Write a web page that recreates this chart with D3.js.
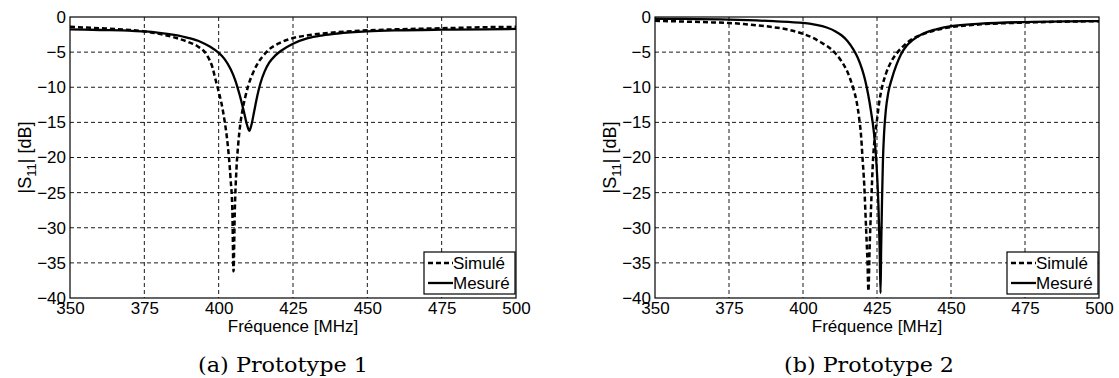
<!DOCTYPE html>
<html><head><meta charset="utf-8">
<script src="https://cdn.jsdelivr.net/npm/d3@7"></script>
<style>
html,body{margin:0;padding:0;background:#fff;}
svg{display:block;}
</style></head>
<body>
<svg id="chart" width="1119" height="378"></svg>
<script>
// ---------- data ----------
const freqTicks = [350, 375, 400, 425, 450, 475, 500];
const dbTicks = [0, -5, -10, -15, -20, -25, -30, -35, -40];
const seriesNames = ["Simulé", "Mesuré"];
const captions = ["(a) Prototype 1", "(b) Prototype 2"];

// Prototype 1 - simulated
const p1SimFreq = [350,360,370,375,380,385,390,393,396,398,399,400,401,402,403,404,404.6,405,405.4,406,406.6,407.2,408,409,410,411.5,413,415,417,420,425,430,435,440,450,460,475,490,500];
const p1SimDb   = [-1.4,-1.6,-1.85,-2.05,-2.4,-2.9,-3.6,-4.2,-5.4,-7.3,-9.0,-10.6,-12.4,-14.8,-18,-23,-27.5,-36.2,-28,-21.5,-18,-15.5,-13.3,-11.3,-9.7,-8.0,-6.7,-5.5,-4.6,-3.8,-3.0,-2.6,-2.35,-2.15,-1.9,-1.75,-1.6,-1.45,-1.4];
// Prototype 1 - measured
const p1MeasFreq = [350,360,370,375,380,385,390,394,397,400,402,404,405.5,407,408.5,409.5,410.3,411,412,413,414,415.5,417,419,421,425,430,435,440,450,460,475,490,500];
const p1MeasDb   = [-1.75,-1.85,-1.95,-2.05,-2.25,-2.55,-3.0,-3.55,-4.2,-5.1,-6.0,-7.4,-8.9,-11.0,-13.5,-15.3,-16.2,-15.4,-13.3,-11.2,-9.5,-7.7,-6.5,-5.5,-4.8,-3.8,-3.0,-2.6,-2.35,-2.05,-1.9,-1.8,-1.75,-1.7];

// Prototype 2 - simulated
const p2SimFreq = [350,360,370,375,380,385,390,395,400,403,406,409,411,413,415,417,418,419,419.6,420.1,420.7,421.3,421.8,422.1,422.5,423,423.7,424.3,424.9,425.7,426.7,428,430,432,434,437,440,445,450,460,475,490,500];
const p2SimDb   = [-0.55,-0.65,-0.78,-0.85,-1.0,-1.2,-1.45,-1.8,-2.4,-2.9,-3.6,-4.4,-5.2,-6.3,-7.8,-10.2,-11.8,-14.5,-16.8,-20,-24,-30,-35,-39,-33,-27,-20,-17,-15,-12.3,-10,-8.1,-6.2,-5.0,-4.1,-3.1,-2.55,-1.85,-1.45,-1.05,-0.8,-0.65,-0.6];
// Prototype 2 - measured
const p2MeasFreq = [350,360,375,390,400,404,408,411,413,415,417,418.5,420,421,422,423,424,424.6,425.1,425.5,425.9,426.2,426.4,426.7,427.0,427.4,428.0,428.8,430,431.5,433,435,437,440,445,450,460,475,490,500];
const p2MeasDb   = [-0.25,-0.28,-0.38,-0.6,-0.85,-1.1,-1.5,-2.05,-2.6,-3.4,-4.6,-5.8,-7.5,-9.0,-11.0,-13.5,-16.6,-19.5,-23,-27,-33,-39.3,-33,-26,-20.5,-16.5,-13.2,-10.8,-8.8,-6.9,-5.4,-4.1,-3.3,-2.5,-1.75,-1.3,-0.95,-0.72,-0.62,-0.58];

const panels = [
  {sim: {f: p1SimFreq, v: p1SimDb}, meas: {f: p1MeasFreq, v: p1MeasDb}, caption: captions[0]},
  {sim: {f: p2SimFreq, v: p2SimDb}, meas: {f: p2MeasFreq, v: p2MeasDb}, caption: captions[1]}
];

// ---------- layout ----------
const frames = [
  {left: 70, right: 516, top: 17, bottom: 298, capX: 283},
  {left: 655, right: 1099, top: 17, bottom: 298, capX: 869}
];

const svg = d3.select("#chart");
const sans = "'Liberation Sans', Arial, Helvetica, sans-serif";
const serif = "'DejaVu Serif', 'Liberation Serif', serif";
const minus = s => String(s).replace("-", "\u2212");
const FS = 17;

panels.forEach((p, i) => {
  const fr = frames[i];
  const x = d3.scaleLinear().domain([350, 500]).range([fr.left, fr.right]);
  const y = d3.scaleLinear().domain([-40, 0]).range([fr.bottom, fr.top]);
  const g = svg.append("g");

  const clipId = "clip" + i;
  svg.append("clipPath").attr("id", clipId).append("rect")
    .attr("x", fr.left).attr("y", fr.top - 2).attr("width", fr.right - fr.left).attr("height", fr.bottom - fr.top + 4);

  // grid
  const grid = g.append("g");
  grid.selectAll("line.gx").data(freqTicks.slice(1, -1)).join("line")
    .attr("x1", d => x(d)).attr("x2", d => x(d)).attr("y1", fr.top).attr("y2", fr.bottom)
    .attr("stroke", "#000").attr("stroke-width", 0.9).attr("stroke-dasharray", "4,3");
  grid.selectAll("line.gy").data(dbTicks.slice(1, -1)).join("line")
    .attr("y1", d => y(d)).attr("y2", d => y(d)).attr("x1", fr.left).attr("x2", fr.right)
    .attr("stroke", "#000").attr("stroke-width", 0.9).attr("stroke-dasharray", "4,3");

  // axes
  const xAxis = d3.axisBottom(x).tickValues(freqTicks).tickSize(0).tickPadding(5).tickFormat(d3.format("d"));
  const yAxis = d3.axisLeft(y).tickValues(dbTicks).tickSize(0).tickPadding(4).tickFormat(d => minus(d));
  const gx = g.append("g").attr("transform", `translate(0,${fr.bottom})`).call(xAxis);
  const gy = g.append("g").attr("transform", `translate(${fr.left},0)`).call(yAxis);
  [gx, gy].forEach(a => {
    a.select(".domain").remove();
    a.selectAll("text").attr("font-family", sans).attr("font-size", FS).attr("fill", "#000");
  });
  gx.selectAll("text").attr("dy", "0.71em").attr("y", 4);

  // curves
  const line = d3.line().x(d => x(d[0])).y(d => y(d[1])).curve(d3.curveMonotoneX);
  const simPts = p.sim.f.map((f, k) => [f, p.sim.v[k]]);
  const measPts = p.meas.f.map((f, k) => [f, p.meas.v[k]]);
  const curves = g.append("g").attr("clip-path", `url(#${clipId})`);
  curves.append("path").datum(simPts).attr("d", line).attr("fill", "none")
    .attr("stroke", "#000").attr("stroke-width", 2.5).attr("stroke-dasharray", "5,3");
  curves.append("path").datum(measPts).attr("d", line).attr("fill", "none")
    .attr("stroke", "#000").attr("stroke-width", 2.3);

  // frame
  g.append("rect").attr("x", fr.left).attr("y", fr.top)
    .attr("width", fr.right - fr.left).attr("height", fr.bottom - fr.top)
    .attr("fill", "none").attr("stroke", "#000").attr("stroke-width", 1.2);

  // legend
  const lw = 91, lh = 42;
  const lx = fr.right - 1 - lw, ly = 252;
  const lg = g.append("g");
  lg.append("rect").attr("x", lx).attr("y", ly).attr("width", lw).attr("height", lh)
    .attr("fill", "#fff").attr("stroke", "#000").attr("stroke-width", 1.2);
  seriesNames.forEach((name, k) => {
    const cy = ly + 11 + k * 20;
    lg.append("line").attr("x1", lx + 4).attr("x2", lx + 29).attr("y1", cy).attr("y2", cy)
      .attr("stroke", "#000").attr("stroke-width", k === 0 ? 2.5 : 2.3)
      .attr("stroke-dasharray", k === 0 ? "5,3" : null);
    lg.append("text").attr("x", lx + 29).attr("y", cy).attr("dy", "0.36em")
      .attr("font-family", sans).attr("font-size", FS).text(name);
  });

  // axis labels
  g.append("text").attr("x", (fr.left + fr.right) / 2).attr("y", 332)
    .attr("text-anchor", "middle").attr("font-family", sans).attr("font-size", FS)
    .text("Fréquence [MHz]");
  const yl = g.append("text")
    .attr("transform", `translate(${fr.left - 39},${(fr.top + fr.bottom) / 2}) rotate(-90)`)
    .attr("text-anchor", "middle").attr("font-family", sans).attr("font-size", 18);
  yl.append("tspan").text("|S");
  yl.append("tspan").attr("font-size", 13).attr("dy", 5).text("11");
  yl.append("tspan").attr("dy", -5).text("| [dB]");

  // caption
  g.append("text").attr("x", fr.capX).attr("y", 372).attr("text-anchor", "middle")
    .attr("font-family", serif).attr("font-size", 21).attr("font-weight", 300)
    .attr("textLength", 170).attr("lengthAdjust", "spacingAndGlyphs").text(p.caption);
});
</script>
</body></html>
